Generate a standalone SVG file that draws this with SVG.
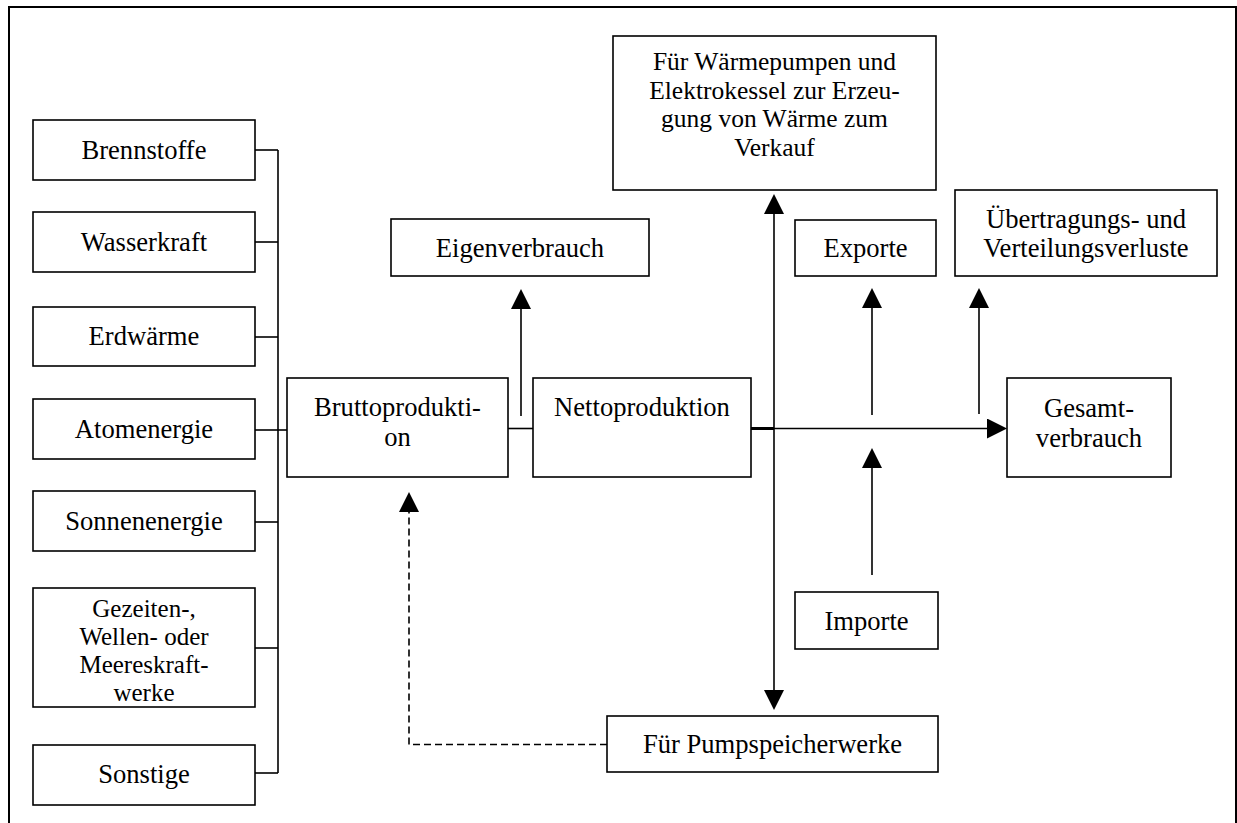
<svg xmlns="http://www.w3.org/2000/svg" width="1237" height="823" viewBox="0 0 1237 823">
<style>
.box{fill:#fff;stroke:#000;stroke-width:1.6}
.t{font-family:"Liberation Serif","Times New Roman",serif;font-size:26.6px;fill:#000;text-anchor:middle}
.c{stroke:#000;stroke-width:1.6;fill:none}
.d{stroke:#000;stroke-width:1.6;fill:none;stroke-dasharray:7 4}
</style>
<defs>
<marker id="ah" viewBox="0 0 20 20" markerWidth="20" markerHeight="20" refX="0" refY="10" orient="auto-start-reverse" markerUnits="userSpaceOnUse">
<path d="M0,0 L20,10 L0,20 z" fill="#000"/>
</marker>
</defs>
<rect x="0" y="0" width="1237" height="823" fill="#fff"/>
<path d="M9,823 V7 H1236 V823" fill="none" stroke="#000" stroke-width="2"/>

<g id="connectors">
<line class="c" x1="255" y1="150" x2="278" y2="150"/>
<line class="c" x1="255" y1="242" x2="278" y2="242"/>
<line class="c" x1="255" y1="337" x2="278" y2="337"/>
<line class="c" x1="255" y1="430" x2="287" y2="430"/>
<line class="c" x1="255" y1="522" x2="278" y2="522"/>
<line class="c" x1="255" y1="648" x2="278" y2="648"/>
<line class="c" x1="255" y1="773" x2="278" y2="773"/>
<line class="c" x1="278" y1="150" x2="278" y2="773"/>
<line class="c" x1="508" y1="428.5" x2="533" y2="428.5"/>
<line class="c" x1="521" y1="416" x2="521" y2="309" marker-end="url(#ah)"/>
<line class="c" x1="751" y1="428.5" x2="987" y2="428.5" marker-end="url(#ah)"/>
<line x1="751" y1="428.5" x2="774" y2="428.5" stroke="#000" stroke-width="3"/>
<line class="c" x1="774" y1="214" x2="774" y2="690" marker-start="url(#ah)" marker-end="url(#ah)"/>
<line class="c" x1="872" y1="415" x2="872" y2="308" marker-end="url(#ah)"/>
<line class="c" x1="979" y1="414" x2="979" y2="308" marker-end="url(#ah)"/>
<line class="c" x1="872" y1="575" x2="872" y2="468" marker-end="url(#ah)"/>
<path class="d" d="M607,744.5 H409 V512" marker-end="url(#ah)"/>
</g>

<g id="brennstoffe"><rect class="box" x="33" y="120" width="222" height="60"/><text class="t" x="144" y="159">Brennstoffe</text></g>
<g id="wasserkraft"><rect class="box" x="33" y="212" width="222" height="60"/><text class="t" x="144" y="251">Wasserkraft</text></g>
<g id="erdwaerme"><rect class="box" x="33" y="307" width="222" height="59"/><text class="t" x="144" y="345">Erdwärme</text></g>
<g id="atomenergie"><rect class="box" x="33" y="399" width="222" height="60"/><text class="t" x="144" y="438">Atomenergie</text></g>
<g id="sonnenenergie"><rect class="box" x="33" y="491" width="222" height="60"/><text class="t" x="144" y="530">Sonnenenergie</text></g>
<g id="gezeiten"><rect class="box" x="33" y="588" width="222" height="119"/>
<text class="t" style="font-size:25px"><tspan x="144" y="616.5">Gezeiten-,</tspan><tspan x="144" y="644.5">Wellen- oder</tspan><tspan x="144" y="672.5">Meereskraft-</tspan><tspan x="144" y="700.5">werke</tspan></text></g>
<g id="sonstige"><rect class="box" x="33" y="745" width="222" height="60"/><text class="t" x="144" y="783">Sonstige</text></g>

<g id="bruttoproduktion"><rect class="box" x="287" y="378" width="221" height="99"/>
<text class="t"><tspan x="397.5" y="416">Bruttoprodukti-</tspan><tspan x="397.5" y="446">on</tspan></text></g>
<g id="nettoproduktion"><rect class="box" x="533" y="378" width="218" height="99"/>
<text class="t" x="642" y="416">Nettoproduktion</text></g>
<g id="eigenverbrauch"><rect class="box" x="391" y="219" width="258" height="57"/>
<text class="t" x="520" y="257">Eigenverbrauch</text></g>
<g id="waermepumpen"><rect class="box" x="613" y="36" width="323" height="154"/>
<text class="t" style="font-size:25.5px"><tspan x="774.5" y="70">Für Wärmepumpen und</tspan><tspan x="774.5" y="98.5">Elektrokessel zur Erzeu-</tspan><tspan x="774.5" y="127">gung von Wärme zum</tspan><tspan x="774.5" y="155.5">Verkauf</tspan></text></g>
<g id="exporte"><rect class="box" x="795" y="220" width="141" height="56"/>
<text class="t" x="865.5" y="257">Exporte</text></g>
<g id="verluste"><rect class="box" x="955" y="190" width="262" height="86"/>
<text class="t"><tspan x="1086" y="228">Übertragungs- und</tspan><tspan x="1086" y="257">Verteilungsverluste</tspan></text></g>
<g id="gesamtverbrauch"><rect class="box" x="1007" y="378" width="164" height="99"/>
<text class="t"><tspan x="1089" y="417">Gesamt-</tspan><tspan x="1089" y="447">verbrauch</tspan></text></g>
<g id="importe"><rect class="box" x="795" y="592" width="143" height="57"/>
<text class="t" x="866.5" y="630">Importe</text></g>
<g id="pumpspeicher"><rect class="box" x="607" y="716" width="331" height="56"/>
<text class="t" x="772.5" y="753">Für Pumpspeicherwerke</text></g>
</svg>
